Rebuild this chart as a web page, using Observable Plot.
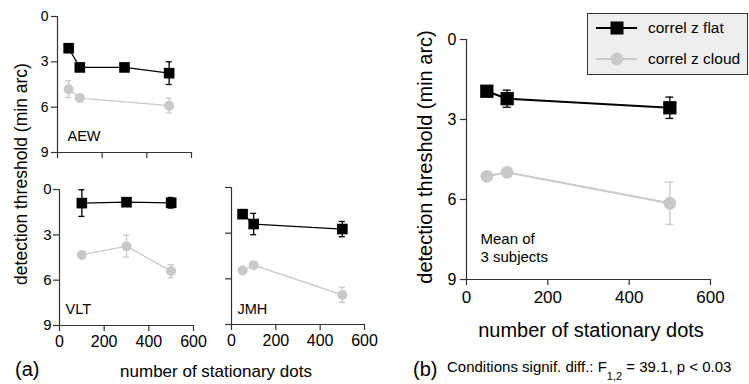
<!DOCTYPE html>
<html><head><meta charset="utf-8">
<script src="https://cdn.jsdelivr.net/npm/d3@7"></script>
<script src="https://cdn.jsdelivr.net/npm/@observablehq/plot@0.6"></script>
<style>
body{margin:0;background:#fff;}
#wrap{position:relative;width:749px;height:384px;font-family:"Liberation Sans",Arial,Helvetica,sans-serif;color:#000;overflow:hidden;background:#fff;}
#wrap svg{position:absolute;}
</style></head><body><div id="wrap"></div>
<script>
// ---- data ----
const xTicks = [0, 200, 400, 600];
const yTicks = [0, 3, 6, 9];
const seriesNames = ["correl z flat", "correl z cloud"];

const aewFlatX = [50, 100, 300, 500];
const aewFlatY = [2.1, 3.37, 3.37, 3.75];
const aewFlatErr = [0, 0, 0, 0.75];
const aewCloudX = [50, 100, 500];
const aewCloudY = [4.81, 5.4, 5.9];
const aewCloudErr = [0.56, 0, 0.49];

const vltFlatX = [100, 300, 500];
const vltFlatY = [0.9, 0.84, 0.88];
const vltFlatErr = [0.88, 0, 0.35];
const vltCloudX = [100, 300, 500];
const vltCloudY = [4.33, 3.75, 5.41];
const vltCloudErr = [0, 0.72, 0.43];

const jmhFlatX = [50, 100, 500];
const jmhFlatY = [1.75, 2.4, 2.73];
const jmhFlatErr = [0, 0.7, 0.5];
const jmhCloudX = [50, 100, 500];
const jmhCloudY = [5.45, 5.1, 7.05];
const jmhCloudErr = [0, 0.2, 0.5];

const meanFlatX = [50, 100, 500];
const meanFlatY = [1.94, 2.22, 2.56];
const meanFlatErr = [0, 0.32, 0.4];
const meanCloudX = [50, 100, 500];
const meanCloudY = [5.13, 4.98, 6.14];
const meanCloudErr = [0, 0, 0.79];

// ---- drawing ----
const FONT = '"Liberation Sans", Arial, Helvetica, sans-serif';
const BLACK = "#000";
const GREY = "#c9c9c9";
const AXIS = "#333";
const wrap = document.getElementById("wrap");

const rows = (X, Y, E) => X.map((x, i) => ({x, y: Y[i], e: E[i]}));

function panel(o) {
  const frameW = o.width - o.mL - o.mR;
  const series = [
    {data: rows(...o.flat), color: BLACK, symbol: "square", r: o.rSq},
    {data: rows(...o.cloud), color: GREY, symbol: "circle", r: o.rCi}
  ];
  const marks = [
    Plot.ruleX([0], {y1: 0, y2: 9, stroke: AXIS, strokeWidth: 1.2}),
    Plot.ruleY([9], {x1: 0, x2: 600, stroke: AXIS, strokeWidth: 1.2}),
    Plot.axisY({ticks: yTicks, tickSize: o.tickSize, tickPadding: o.yPad, fontSize: o.yFont,
      tickFormat: o.yLabels ? d => d : () => "", label: null, stroke: AXIS, strokeWidth: 1.2}),
    Plot.axisX({ticks: xTicks, tickSize: o.tickSize, tickPadding: o.xPad, fontSize: o.xFont,
      tickFormat: o.xLabels ? d => d : () => "", label: null, stroke: AXIS, strokeWidth: 1.2})
  ];
  for (const s of series) {
    const cap = o.capPx * 600 / frameW;
    const err = s.data.filter(d => d.e > 0);
    marks.push(
      Plot.ruleX(err, {x: "x", y1: d => d.y - d.e, y2: d => d.y + d.e, stroke: s.color, strokeWidth: o.errW}),
      Plot.ruleY(err, {y: d => d.y - d.e, x1: d => d.x - cap, x2: d => d.x + cap, stroke: s.color, strokeWidth: o.errW}),
      Plot.ruleY(err, {y: d => d.y + d.e, x1: d => d.x - cap, x2: d => d.x + cap, stroke: s.color, strokeWidth: o.errW}),
      Plot.line(s.data, {x: "x", y: "y", stroke: s.color, strokeWidth: o.lineW}),
      Plot.dot(s.data, {x: "x", y: "y", symbol: s.symbol, r: s.r, fill: s.color, stroke: "none"})
    );
  }
  marks.push(Plot.text([o.label], {frameAnchor: "bottom-left", textAnchor: "start", lineAnchor: "bottom",
    dx: o.labelDx, dy: o.labelDy, fontSize: o.labelFont, lineHeight: o.labelLH || 1.2, fill: "#000"}));
  const svg = Plot.plot({
    width: o.width, height: o.height,
    marginLeft: o.mL, marginRight: o.mR, marginTop: o.mT, marginBottom: o.mB,
    x: {domain: [0, 600]},
    y: {domain: [0, 9], reverse: true},
    style: {background: "transparent", fontFamily: FONT, color: "#000", maxWidth: "none", overflow: "visible"},
    marks
  });
  svg.style.left = o.left + "px";
  svg.style.top = o.top + "px";
  wrap.appendChild(svg);
}

const small = {rSq: 6, rCi: 5, tickSize: 6, capPx: 3, errW: 1.3, lineW: 1.3, labelFont: 14.5};

panel({...small, label: "AEW", flat: [aewFlatX, aewFlatY, aewFlatErr], cloud: [aewCloudX, aewCloudY, aewCloudErr],
  left: 0, top: 0, width: 200, height: 170, mL: 57, mR: 9, mT: 16, mB: 18,
  yLabels: true, xLabels: false, yFont: 14, xFont: 15, yPad: 3, xPad: 4, labelDx: 10, labelDy: -12});

panel({...small, label: "VLT", flat: [vltFlatX, vltFlatY, vltFlatErr], cloud: [vltCloudX, vltCloudY, vltCloudErr],
  left: 0, top: 170, width: 205, height: 180, mL: 59, mR: 12, mT: 19, mB: 25,
  yLabels: true, xLabels: true, yFont: 15, xFont: 16, yPad: 2, xPad: 4, labelDx: 6, labelDy: -12});

panel({...small, label: "JMH", flat: [jmhFlatX, jmhFlatY, jmhFlatErr], cloud: [jmhCloudX, jmhCloudY, jmhCloudErr],
  left: 200, top: 170, width: 180, height: 180, mL: 31, mR: 16, mT: 17, mB: 26,
  yLabels: false, xLabels: true, yFont: 15, xFont: 16, yPad: 2, xPad: 4, labelDx: 6, labelDy: -11});

panel({label: "Mean of\n3 subjects", flat: [meanFlatX, meanFlatY, meanFlatErr], cloud: [meanCloudX, meanCloudY, meanCloudErr],
  rSq: 7.5, rCi: 6.4, tickSize: 6, capPx: 4, errW: 1.3, lineW: 2, labelFont: 15, labelLH: 1.2,
  left: 380, top: 0, width: 369, height: 310, mL: 86, mR: 39, mT: 39, mB: 31,
  yLabels: true, xLabels: true, yFont: 16, xFont: 17, yPad: 4, xPad: 5, labelDx: 14, labelDy: -18});

// ---- overlay texts and legend ----
const ov = d3.select(wrap).append("svg")
  .attr("width", 749).attr("height", 384)
  .style("left", "0px").style("top", "0px")
  .style("font-family", FONT).style("pointer-events", "none");

function vtext(x, y, size, str) {
  ov.append("text").attr("transform", `translate(${x},${y}) rotate(-90)`)
    .attr("text-anchor", "middle").attr("dominant-baseline", "central")
    .attr("font-size", size).text(str);
}
vtext(21, 174, 17.5, "detection threshold (min arc)");
vtext(425, 157, 20, "detection threshold (min arc)");

ov.append("text").attr("x", 15).attr("y", 376).attr("font-size", 20).text("(a)");
ov.append("text").attr("x", 216).attr("y", 377).attr("text-anchor", "middle").attr("font-size", 17).text("number of stationary dots");
ov.append("text").attr("x", 591).attr("y", 337).attr("text-anchor", "middle").attr("font-size", 20).text("number of stationary dots");
ov.append("text").attr("x", 413).attr("y", 376).attr("font-size", 20).text("(b)");
const cap = ov.append("text").attr("x", 447).attr("y", 372).attr("font-size", 15);
cap.append("tspan").text("Conditions signif. diff.: F");
cap.append("tspan").attr("font-size", 11).attr("dy", 8).text("1,2");
cap.append("tspan").attr("dy", -8).text(" = 39.1, p < 0.03");

// legend
const lg = ov.append("g");
lg.append("rect").attr("x", 587.5).attr("y", 13.5).attr("width", 160).attr("height", 61)
  .attr("fill", "#eeeeee").attr("stroke", "#333").attr("stroke-width", 1);
const legendItems = [
  {name: seriesNames[0], color: BLACK, sym: "square", y: 28},
  {name: seriesNames[1], color: GREY, sym: "circle", y: 59}
];
for (const it of legendItems) {
  lg.append("line").attr("x1", 596).attr("x2", 637).attr("y1", it.y).attr("y2", it.y)
    .attr("stroke", it.color).attr("stroke-width", 2);
  if (it.sym === "square") {
    lg.append("rect").attr("x", 617 - 6.5).attr("y", it.y - 6.5).attr("width", 13).attr("height", 13).attr("fill", it.color);
  } else {
    lg.append("circle").attr("cx", 617).attr("cy", it.y).attr("r", 6.4).attr("fill", it.color);
  }
  lg.append("text").attr("x", 648).attr("y", it.y + 5).attr("font-size", 15.5).text(it.name);
}
</script></body></html>
